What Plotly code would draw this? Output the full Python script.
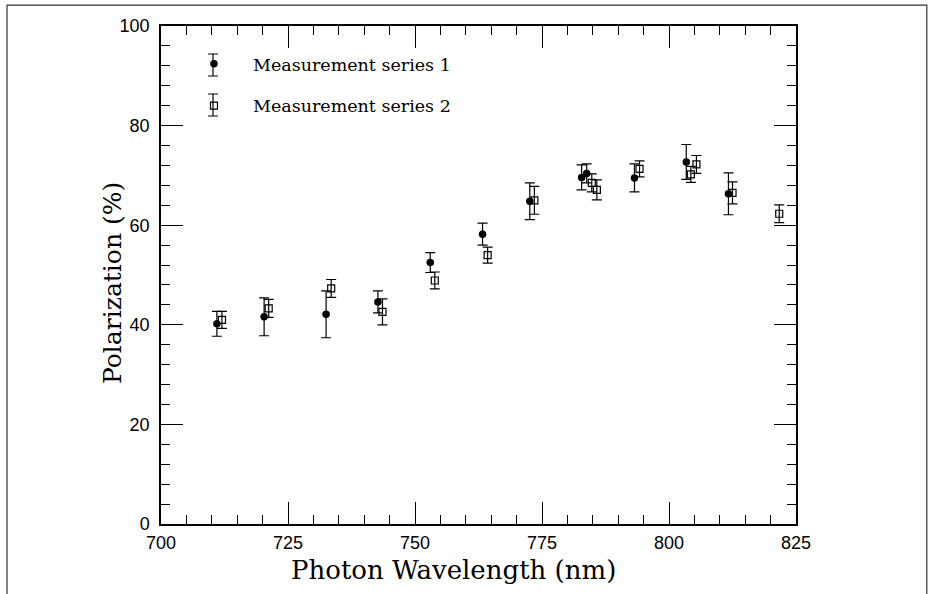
import plotly.graph_objects as go

# Series 1 (filled circles)
s1_wavelength = [711.0, 720.3, 732.5, 742.7, 753.0, 763.3, 772.6, 782.8, 783.8, 793.2, 803.4, 811.7]
s1_polarization = [40.2, 41.6, 42.1, 44.6, 52.5, 58.2, 64.8, 69.6, 70.4, 69.5, 72.7, 66.3]
s1_error = [2.5, 3.8, 4.7, 2.2, 2.0, 2.2, 3.7, 2.5, 1.9, 2.8, 3.5, 4.2]

# Series 2 (open squares)
s2_wavelength = [712.0, 721.2, 733.5, 743.6, 753.9, 764.3, 773.5, 784.8, 785.8, 794.2, 804.3, 805.4, 812.5, 821.7]
s2_polarization = [41.0, 43.3, 47.3, 42.6, 48.9, 54.0, 65.0, 68.5, 67.1, 71.3, 70.2, 72.2, 66.5, 62.3]
s2_error = [1.7, 1.8, 1.8, 2.6, 1.7, 1.6, 2.8, 1.8, 2.0, 1.6, 1.6, 1.8, 2.2, 1.8]

x_ticks = [700, 725, 750, 775, 800, 825]
y_ticks = [0, 20, 40, 60, 80, 100]

x_title = "Photon Wavelength (nm)"
y_title = "Polarization (%)"

serif = "DejaVu Serif"
sans = "Liberation Sans"

fig = go.Figure()
fig.add_trace(go.Scatter(
    x=s1_wavelength, y=s1_polarization, mode="markers", name="Measurement series 1",
    legendgroup="a",
    marker=dict(symbol="circle", size=7.5, color="black"),
    error_y=dict(type="data", array=s1_error, visible=True, color="black", thickness=1.2, width=5),
))
fig.add_trace(go.Scatter(
    x=s2_wavelength, y=s2_polarization, mode="markers", name="Measurement series 2",
    legendgroup="b",
    marker=dict(symbol="square-open", size=7, color="black", line=dict(width=1.2)),
    error_y=dict(type="data", array=s2_error, visible=True, color="black", thickness=1.2, width=5),
))

axis_common = dict(
    showgrid=False, zeroline=False, showline=True, linecolor="black", linewidth=1.5,
    mirror="allticks", ticks="inside", ticklen=22, tickwidth=1.2, tickcolor="black",
    tickfont=dict(family=sans, size=18, color="black"), automargin=False,
)
fig.update_xaxes(
    range=[700, 825], tickvals=x_ticks, ticktext=[str(v) for v in x_ticks],
    minor=dict(dtick=5, ticks="inside", ticklen=9, tickwidth=1, tickcolor="black", showgrid=False),
    ticklabelstandoff=2,
    **axis_common,
)
fig.update_yaxes(
    range=[0, 100], tickvals=y_ticks, ticktext=[str(v) for v in y_ticks],
    minor=dict(dtick=4, ticks="inside", ticklen=9, tickwidth=1, tickcolor="black", showgrid=False),
    ticklabelstandoff=6,
    **axis_common,
)

# axis titles as annotations (positioned as in the reference)
fig.add_annotation(text=x_title, xref="paper", yref="paper", x=(453 - 161) / 635, y=-(570 - 524) / 498,
                   xanchor="center", yanchor="middle", showarrow=False,
                   font=dict(family=serif, size=26, color="black"))
fig.add_annotation(text=y_title, xref="paper", yref="paper", x=-(161 - 112) / 635, y=(524 - 283) / 498,
                   xanchor="center", yanchor="middle", showarrow=False, textangle=-90,
                   font=dict(family=serif, size=25, color="black"))

# legend glyph error bars (decoration next to the legend markers)
gx, cap = (213 - 161) / 635, 5 / 635
for top_px, bot_px in [(54, 76), (94, 116)]:
    yt, yb = (524 - top_px) / 498, (524 - bot_px) / 498
    fig.add_shape(type="path", xref="paper", yref="paper",
                  path=f"M {gx - cap},{yt} L {gx + cap},{yt} M {gx},{yt} L {gx},{yb} M {gx - cap},{yb} L {gx + cap},{yb}",
                  line=dict(color="black", width=1.2))

# scanned page frame
fig.add_shape(type="path", xref="paper", yref="paper",
              path="M -0.2425,-0.15 L -0.2425,1.042 L 1.206,1.042 L 1.206,-0.15",
              line=dict(color="#333333", width=1.2))

fig.update_layout(
    width=933, height=594,
    margin=dict(l=161, r=137, t=26, b=70),
    paper_bgcolor="white", plot_bgcolor="white",
    showlegend=True,
    legend=dict(x=0.022, y=0.96, xanchor="left", yanchor="top",
                font=dict(family=serif, size=17.5, color="black"),
                bgcolor="rgba(0,0,0,0)", tracegroupgap=16, itemwidth=68),
)

fig.write_html("out.html", config={"displayModeBar": False},
               post_script="document.body.style.margin='0';")
